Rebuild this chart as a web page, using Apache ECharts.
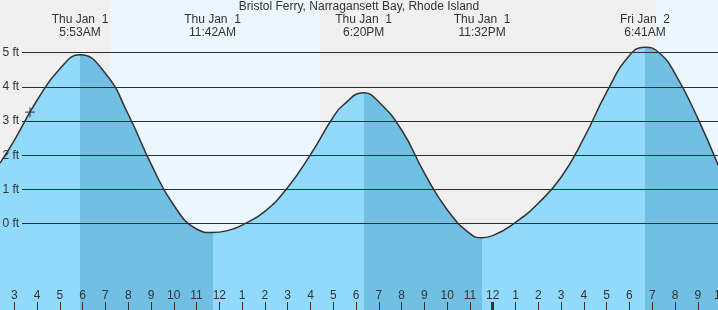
<!DOCTYPE html>
<html><head><meta charset="utf-8">
<script src="https://cdn.jsdelivr.net/npm/echarts@6/dist/echarts.min.js"></script>
<style>html,body{margin:0;padding:0;background:#f0f0f0}#c{width:718px;height:310px}</style>
</head><body><div id="c"></div>
<script>
// ---- data ----
const titleText = 'Bristol Ferry, Narragansett Bay, Rhode Island';
// hours since Thu Jan 1 00:00
const tideHours = [2.372, 3, 4, 5, 5.883, 7, 8, 9, 10, 11, 11.7, 12.47, 13, 14, 15, 16, 17, 17.44, 18.333, 19, 20, 21, 22, 23, 23.533, 24, 25, 26, 27, 28, 29, 30, 30.683, 31.3, 32, 33, 33.89];
const tideFeet  = [1.77, 2.44, 3.61, 4.53, 4.94, 4.39, 3.20, 1.75, 0.54, -0.155, -0.26, -0.18, -0.04, 0.36, 1.06, 2.02, 3.12, 3.47, 3.83, 3.56, 2.74, 1.48, 0.41, -0.29, -0.41, -0.35, 0.04, 0.60, 1.36, 2.50, 3.85, 4.92, 5.16, 5.0, 4.39, 3.08, 1.72];
const eventHours = [5.883, 11.7, 18.333, 23.533, 30.683];
const eventDays  = ['Thu Jan  1', 'Thu Jan  1', 'Thu Jan  1', 'Thu Jan  1', 'Fri Jan  2'];
const eventTimes = ['5:53AM', '11:42AM', '6:20PM', '11:32PM', '6:41AM'];
const hourTicks = [2,3,4,5,6,7,8,9,10,11,12,13,14,15,16,17,18,19,20,21,22,23,24,25,26,27,28,29,30,31,32,33,34];
const midnightTicks = [24];
const footTicks = [0, 1, 2, 3, 4, 5];
const daylightSpans = [[7.2, 16.42], [31.16, 34]];
const nowPoint = [3.69, 3.26];

// ---- style ----
const FONT = "'Liberation Sans', Arial, sans-serif";
const TXT = '#333';
const LIGHT = '#92dafb';
const DARK = '#72bfe4';
const X_MIN = 2, X_MAX = 34, Y_MIN = -2.523, Y_MAX = 6.541;

const tideData = tideHours.map((h, i) => [h, tideFeet[i]]);

// rising (light) / falling (dark) pieces, split at the tide extremes
const pieces = [];
let prev = 0;
eventHours.forEach((h, i) => {
  pieces.push({ gte: prev, lt: h, color: i % 2 === 0 ? LIGHT : DARK });
  prev = h;
});
pieces.push({ gte: prev, lte: 40, color: eventHours.length % 2 === 0 ? LIGHT : DARK });

const chart = echarts.init(document.getElementById('c'));
chart.setOption({
  animation: false,
  backgroundColor: '#f0f0f0',
  title: {
    text: titleText, left: 'center', top: 1, padding: 0,
    textStyle: { fontSize: 12, fontWeight: 'normal', color: TXT, fontFamily: FONT }
  },
  grid: [
    { left: -8.48, right: -2.58, top: 0, bottom: 0, outerBoundsMode: 'none', containLabel: false },
    { left: 22, right: 0, top: 0, bottom: 0, outerBoundsMode: 'none', containLabel: false }
  ],
  xAxis: [
    {
      gridIndex: 0, type: 'value', min: X_MIN, max: X_MAX, position: 'bottom', z: 20,
      axisLine: { show: false, onZero: false }, splitLine: { show: false },
      axisTick: { show: true, inside: true, length: 8, customValues: hourTicks, lineStyle: { color: TXT, width: 1 } },
      axisLabel: {
        show: true, inside: true, margin: 8, customValues: hourTicks, hideOverlap: false,
        color: TXT, fontSize: 12, fontFamily: FONT,
        formatter: v => String((v % 12) || 12)
      }
    },
    {
      gridIndex: 0, type: 'value', min: X_MIN, max: X_MAX, position: 'bottom', z: 20,
      axisLine: { show: false, onZero: false }, splitLine: { show: false }, axisLabel: { show: false },
      axisTick: { show: true, inside: true, length: 8, customValues: midnightTicks, lineStyle: { color: TXT, width: 3 } }
    },
    { gridIndex: 1, type: 'value', min: X_MIN, max: X_MAX, show: false, axisLine: { onZero: false } }
  ],
  yAxis: [
    {
      gridIndex: 0, type: 'value', min: Y_MIN, max: Y_MAX, z: 20,
      axisLine: { show: false, onZero: false }, axisTick: { show: false }, splitLine: { show: false },
      axisLabel: {
        show: true, inside: true, margin: 11, customValues: footTicks,
        color: TXT, fontSize: 12, fontFamily: FONT, formatter: '{value} ft'
      }
    },
    { gridIndex: 1, type: 'value', min: Y_MIN, max: Y_MAX, show: false, axisLine: { onZero: false } }
  ],
  visualMap: {
    show: false, type: 'piecewise', dimension: 0, seriesIndex: 2, pieces: pieces
  },
  series: [
    { // daylight bands
      type: 'line', xAxisIndex: 0, yAxisIndex: 0, data: tideData, symbol: 'none', silent: true,
      lineStyle: { opacity: 0 }, z: 1,
      markArea: {
        silent: true, itemStyle: { color: '#ebf6fe' },
        data: daylightSpans.map(s => [{ xAxis: s[0] }, { xAxis: s[1] }])
      }
    },
    { // foot lines (under the water)
      type: 'line', xAxisIndex: 2, yAxisIndex: 1, data: [[X_MIN, 0]], symbol: 'none', silent: true,
      lineStyle: { opacity: 0 }, z: 2,
      markLine: {
        silent: true, symbol: ['none', 'none'], label: { show: false },
        lineStyle: { color: '#2b2b2b', width: 1, type: 'solid' },
        data: footTicks.map(v => ({ yAxis: v }))
      }
    },
    { // water area
      type: 'line', xAxisIndex: 0, yAxisIndex: 0, data: tideData, smooth: 0.5, symbol: 'none', silent: true,
      lineStyle: { width: 0, opacity: 0 }, areaStyle: { opacity: 1, origin: 'start' }, z: 3
    },
    { // foot lines seen through the water
      type: 'line', xAxisIndex: 2, yAxisIndex: 1, data: [[X_MIN, 0]], symbol: 'none', silent: true,
      lineStyle: { opacity: 0 }, z: 4,
      markLine: {
        silent: true, symbol: ['none', 'none'], label: { show: false },
        lineStyle: { color: 'rgba(20,80,130,0.13)', width: 1, type: 'solid' },
        data: footTicks.map(v => ({ yAxis: v }))
      }
    },
    { // tide curve + event labels
      type: 'line', xAxisIndex: 0, yAxisIndex: 0, data: tideData, smooth: 0.5, symbol: 'none', silent: true,
      lineStyle: { color: '#333', width: 1.5 }, z: 5,
      markPoint: {
        silent: true, symbol: 'circle', symbolSize: 0,
        label: {
          show: true, position: 'inside', color: TXT, fontSize: 12, fontFamily: FONT, lineHeight: 12.5,
          formatter: p => p.data.name
        },
        data: eventHours.map((h, i) => ({ coord: [h, 5.78], name: eventDays[i] + '\n' + eventTimes[i] }))
      }
    },
    { // current time marker
      type: 'scatter', xAxisIndex: 0, yAxisIndex: 0, data: [nowPoint], silent: true, z: 6,
      symbol: 'path://M0,5L10,5M5,0L5,10', symbolSize: 10,
      itemStyle: { color: 'none', borderColor: '#333', borderWidth: 1.2 }
    }
  ]
});
</script>
</body></html>
